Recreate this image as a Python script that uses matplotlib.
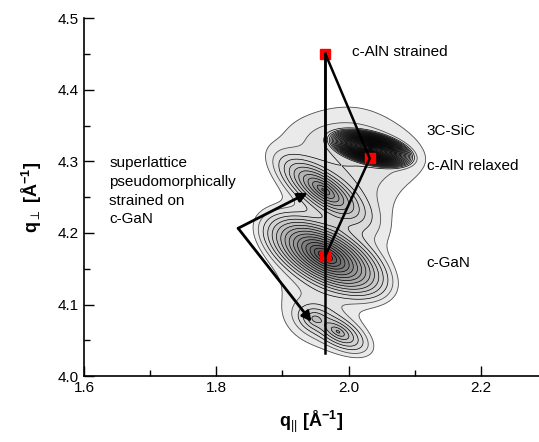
import numpy as np
import matplotlib.pyplot as plt
from matplotlib.colors import LinearSegmentedColormap

plt.rcParams["font.family"] = ["Liberation Sans", "DejaVu Sans"]
plt.rcParams["mathtext.fontset"] = "custom"
plt.rcParams["mathtext.rm"] = "Liberation Sans"
plt.rcParams["mathtext.bf"] = "Liberation Sans:bold"

# ---- peaks of the reciprocal space map ----
# q_par centre, q_perp centre, amplitude, width major, width minor, angle (deg)
PEAK_NAMES = ["c-GaN", "SL upper", "SL lower", "SL lower b", "3C-SiC", "diffuse", "diffuse top"]
PEAK_QPAR = [1.965, 1.962, 1.984, 1.950, 2.033, 1.978, 2.012]
PEAK_QPERP = [4.168, 4.260, 4.062, 4.080, 4.318, 4.200, 4.318]
PEAK_AMP = [1.5e4, 700.0, 70.0, 25.0, 1.0e9, 6.0, 4.0]
PEAK_WMAJ = [0.0120, 0.0140, 0.0130, 0.0100, 0.0034, 0.085, 0.062]
PEAK_WMIN = [0.0055, 0.0055, 0.0060, 0.0070, 0.0013, 0.042, 0.026]
PEAK_ANG = [-28.0, -35.0, -30.0, -20.0, -14.0, 78.0, -10.0]

# reference points (red squares)
PT_QPAR = [1.965, 2.032, 1.965]
PT_QPERP = [4.450, 4.304, 4.168]

# triangle / vertical line
TRI_QPAR = [1.965, 2.032, 1.965]
TRI_QPERP = [4.450, 4.304, 4.168]
VLINE_QPAR = 1.965
VLINE_QPERP = [4.450, 4.033]

# arrows from the superlattice label
ARROW_FROM = (1.833, 4.2065)
ARROW_TO = [(1.938, 4.256), (1.944, 4.076)]

LABELS = ["c-AlN strained", "3C-SiC", "c-AlN relaxed", "c-GaN"]
LABEL_QPAR = [2.005, 2.118, 2.118, 2.118]
LABEL_QPERP = [4.452, 4.343, 4.294, 4.158]

qx = np.linspace(1.80, 2.20, 600)
qz = np.linspace(4.00, 4.45, 680)
QX, QZ = np.meshgrid(qx, qz)
intensity = np.zeros_like(QX)
for x0, z0, a, wa, wb, ang in zip(PEAK_QPAR, PEAK_QPERP, PEAK_AMP,
                                   PEAK_WMAJ, PEAK_WMIN, PEAK_ANG):
    t = np.deg2rad(ang)
    dx, dz = QX - x0, (QZ - z0) * 1.086
    u = dx * np.cos(t) + dz * np.sin(t)
    v = -dx * np.sin(t) + dz * np.cos(t)
    r = np.sqrt((u / wa) ** 2 + (v / wb) ** 2)
    intensity += a * np.exp(-r)
logI = np.log10(intensity + 1e-3)

levels = np.arange(0.0, 9.3, 0.25)
cmap = LinearSegmentedColormap.from_list(
    "g", ["#eeeeee", "#cccccc", "#a0a0a0", "#747474", "#4a4a4a"])

fig = plt.figure(figsize=(5.39, 4.42), dpi=100)
ax = fig.add_axes([0.156, 0.149, 0.844, 0.810])

ax.contourf(QX, QZ, logI, levels=levels, cmap=cmap, vmin=0, vmax=4.2)
ax.contour(QX, QZ, logI, levels=levels[:2], colors="#505050", linewidths=0.6)
ax.contour(QX, QZ, logI, levels=levels[2:], colors="black", linewidths=0.5)

ax.plot(PT_QPAR, PT_QPERP, "s", color="red", ms=7, mec="red", zorder=3)
ax.plot(TRI_QPAR + [TRI_QPAR[0]], TRI_QPERP + [TRI_QPERP[0]], color="black", lw=1.8, zorder=4)
ax.plot([VLINE_QPAR, VLINE_QPAR], VLINE_QPERP, color="black", lw=1.8, zorder=4)

for tgt in ARROW_TO:
    ax.annotate("", xy=tgt, xytext=ARROW_FROM,
                arrowprops=dict(arrowstyle="-|>", lw=2.0, color="black",
                                mutation_scale=14, shrinkA=0, shrinkB=0))

for s, x, y in zip(LABELS, LABEL_QPAR, LABEL_QPERP):
    ax.text(x, y, s, fontsize=11, ha="left", va="center")
ax.text(1.638, 4.308, "superlattice\npseudomorphically\nstrained on\nc-GaN",
        fontsize=11, ha="left", va="top", linespacing=1.45)

ax.set_xlim(1.6, 2.288)
ax.set_ylim(4.0, 4.5)
ax.set_xticks([1.6, 1.8, 2.0, 2.2])
ax.set_xticks([1.7, 1.9, 2.1], minor=True)
ax.set_yticks([4.0, 4.1, 4.2, 4.3, 4.4, 4.5])
ax.set_yticks(np.arange(4.05, 4.5, 0.1), minor=True)
ax.xaxis.set_major_formatter(plt.FormatStrFormatter("%.1f"))
ax.yaxis.set_major_formatter(plt.FormatStrFormatter("%.1f"))
ax.tick_params(which="both", direction="in", labelsize=11, width=1.0)
ax.tick_params(which="major", length=7)
ax.tick_params(which="minor", length=4)
for side in ["top", "right"]:
    ax.spines[side].set_visible(False)
for side in ["left", "bottom"]:
    ax.spines[side].set_linewidth(1.2)

ax.set_xlabel(r"$\mathbf{q}_{||}$ [Å$^{\mathbf{-1}}$]", fontsize=13, fontweight="bold", labelpad=10)
ax.set_ylabel(r"$\mathbf{q}_{\perp}$ [Å$^{\mathbf{-1}}$]", fontsize=13, fontweight="bold", labelpad=10)

fig.savefig("out.png", dpi=100)
